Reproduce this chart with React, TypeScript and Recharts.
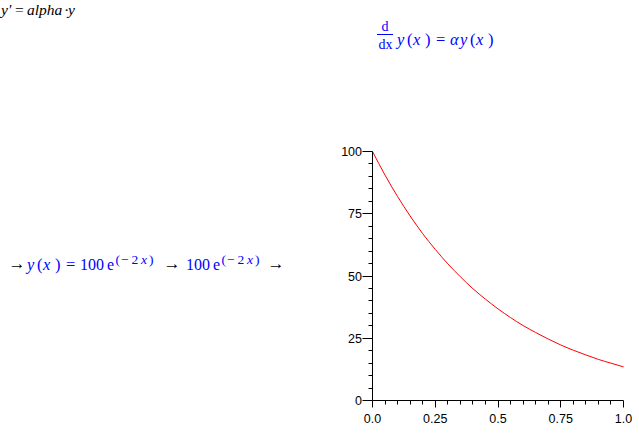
import React from 'react';
import { LineChart, Line, XAxis, YAxis } from 'recharts';

// Data: y = value at each x
const xValues = [0, 0.05, 0.1, 0.15, 0.2, 0.25, 0.3, 0.35, 0.4, 0.45, 0.5, 0.55, 0.6, 0.65, 0.7, 0.75, 0.8, 0.85, 0.9, 0.95, 1.0];
const yValues = [100, 90.5, 81.9, 74.1, 67.0, 60.7, 54.9, 49.7, 44.9, 40.7, 36.8, 33.3, 30.1, 27.3, 24.7, 22.3, 20.2, 18.3, 16.5, 15.0, 13.5];

const xTicks = [0, 0.05, 0.1, 0.15, 0.2, 0.25, 0.3, 0.35, 0.4, 0.45, 0.5, 0.55, 0.6, 0.65, 0.7, 0.75, 0.8, 0.85, 0.9, 0.95, 1.0];
const xMajor = [0, 0.25, 0.5, 0.75, 1.0];
const xMajorLabels = ['0.0', '0.25', '0.5', '0.75', '1.0'];

const yTicks = [0, 5, 10, 15, 20, 25, 30, 35, 40, 45, 50, 55, 60, 65, 70, 75, 80, 85, 90, 95, 100];
const yMajor = [0, 25, 50, 75, 100];
const yMajorLabels = ['0', '25', '50', '75', '100'];

const data = xValues.map((x, i) => ({ x, y: yValues[i] }));

const findLabel = (vals: number[], labels: string[], v: number) => {
  const i = vals.findIndex((m) => Math.abs(m - v) < 1e-9);
  return i >= 0 ? labels[i] : undefined;
};

const crisp = (v: number) => Math.round(v - 0.5) + 0.5;
const sans = "'Liberation Sans', Arial, sans-serif";

const XTick = (props: any) => {
  const { x, y, payload } = props;
  const label = findLabel(xMajor, xMajorLabels, payload.value);
  const px = crisp(x);
  return (
    <g>
      <line x1={px} x2={px} y1={y} y2={y + (label !== undefined ? 7 : 4)} stroke="#000" strokeWidth={1} />
      {label !== undefined && (
        <text x={x} y={y + 22.5} textAnchor="middle" fontFamily={sans} fontSize={12.5} fill="#000">
          {label}
        </text>
      )}
    </g>
  );
};

const YTick = (props: any) => {
  const { x, y, payload } = props;
  const label = findLabel(yMajor, yMajorLabels, payload.value);
  const py = crisp(y);
  return (
    <g>
      <line x1={x - (label !== undefined ? 10 : 4)} x2={x} y1={py} y2={py} stroke="#000" strokeWidth={1} />
      {label !== undefined && (
        <text x={x - 10.5} y={y + 4.5} textAnchor="end" fontFamily={sans} fontSize={12.5} fill="#000">
          {label}
        </text>
      )}
    </g>
  );
};

const serif = "'Liberation Serif', 'Times New Roman', 'DejaVu Serif', serif";
const BLUE = '#0000FF';

const YofX = ({ x0, base, size }: { x0: number; base: number; size: number }) => (
  <g fill={BLUE} fontFamily={serif} fontSize={size}>
    <text x={x0} y={base} fontStyle="italic">y</text>
    <text x={x0 + 10} y={base}>(</text>
    <text x={x0 + 16} y={base} fontStyle="italic">x</text>
    <text x={x0 + 28} y={base}>)</text>
  </g>
);

const Exp = ({ x0, base }: { x0: number; base: number }) => (
  <g fill={BLUE} fontFamily={serif}>
    <text x={x0} y={base} fontSize={16}>100</text>
    <text x={x0 + 27} y={base} fontSize={16}>e</text>
    <text x={x0 + 35.5} y={base - 6} fontSize={13.5}>(</text>
    <text x={x0 + 41} y={base - 6} fontSize={13.5}>−</text>
    <text x={x0 + 51.5} y={base - 6} fontSize={13.5}>2</text>
    <text x={x0 + 61} y={base - 6} fontSize={13.5} fontStyle="italic">x</text>
    <text x={x0 + 69} y={base - 6} fontSize={13.5}>)</text>
  </g>
);

const Arrow = ({ x0, base }: { x0: number; base: number }) => (
  <text x={x0} y={base} fontFamily={serif} fontSize={17} fill="#000">→</text>
);

export default function App() {
  return (
    <div style={{ position: 'absolute', left: 0, top: 0, width: 639, height: 433, background: '#fff', overflow: 'hidden' }}>
      <div style={{ position: 'absolute', left: 0, top: 0 }}>
        <LineChart width={639} height={433} data={data} margin={{ top: 151.5, right: 15.5, bottom: 2.5, left: 332.5 }}>
          <XAxis
            dataKey="x"
            type="number"
            domain={[0, 1]}
            ticks={xTicks}
            interval={0}
            height={30}
            tickSize={0}
            tickMargin={0}
            tickLine={false}
            axisLine={{ stroke: '#000', strokeWidth: 1 }}
            tick={<XTick />}
          />
          <YAxis
            type="number"
            domain={[0, 100]}
            ticks={yTicks}
            interval={0}
            width={40}
            tickSize={0}
            tickMargin={0}
            tickLine={false}
            axisLine={{ stroke: '#000', strokeWidth: 1 }}
            tick={<YTick />}
          />
          <Line type="monotone" dataKey="y" stroke="#FF0000" strokeWidth={1} dot={false} isAnimationActive={false} />
        </LineChart>
      </div>
      <svg width={639} height={433} style={{ position: 'absolute', left: 0, top: 0, pointerEvents: 'none' }}>
        {/* input line */}
        <g fontFamily={serif} fontSize={15.5} fill="#000" fontStyle="italic">
          <text x={1} y={15}>y'</text>
          <text x={14} y={15}>=</text>
          <text x={27} y={15}>alpha</text>
          <text x={64.5} y={15}>·</text>
          <text x={68} y={15}>y</text>
        </g>
        {/* ODE */}
        <g fill={BLUE} fontFamily={serif} fontSize={14}>
          <text x={385} y={31} textAnchor="middle">d</text>
          <text x={385.5} y={48.5} textAnchor="middle">dx</text>
        </g>
        <line x1={377} x2={393} y1={34.5} y2={34.5} stroke={BLUE} strokeWidth={1} />
        <YofX x0={397} base={44.5} size={16.5} />
        <g fill={BLUE} fontFamily={serif} fontSize={16.5}>
          <text x={436} y={44.5}>=</text>
          <text x={450} y={44.5} fontStyle="italic">α</text>
        </g>
        <YofX x0={460} base={44.5} size={16.5} />
        {/* solution line */}
        <Arrow x0={8.5} base={268.5} />
        <YofX x0={27} base={269.5} size={16.5} />
        <text x={66} y={269.5} fontFamily={serif} fontSize={16.5} fill={BLUE}>=</text>
        <Exp x0={80} base={269.5} />
        <Arrow x0={163.5} base={268.5} />
        <Exp x0={186} base={269.5} />
        <Arrow x0={267.5} base={268.5} />
      </svg>
    </div>
  );
}
